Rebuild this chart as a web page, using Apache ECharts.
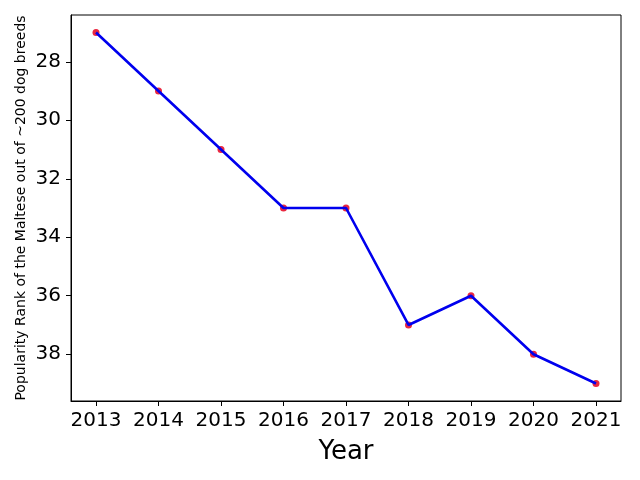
<!DOCTYPE html>
<html>
<head>
<meta charset="utf-8">
<script src="https://cdn.jsdelivr.net/npm/echarts@6/dist/echarts.min.js"></script>
<style>
  html, body { margin: 0; padding: 0; background: #fff; }
  #chart { width: 640px; height: 480px; }
</style>
</head>
<body>
<div id="chart"></div>
<script>
var years = [2013, 2014, 2015, 2016, 2017, 2018, 2019, 2020, 2021];
var ranks = [27, 29, 31, 33, 33, 37, 36, 38, 39];
var yTicks = [28, 30, 32, 34, 36, 38];

var points = years.map(function (y, i) { return [y, ranks[i]]; });

var myChart = echarts.init(document.getElementById('chart'));
var font = 'DejaVu Sans';
var option = {
    animation: false,
    grid: { left: 71, right: 19, top: 15, bottom: 79, containLabel: false },
    xAxis: {
        type: 'value',
        min: 2012.6,
        max: 2021.4,
        name: 'Year',
        nameLocation: 'middle',
        nameGap: 38,
        nameTextStyle: { fontFamily: font, fontSize: 26, color: '#000' },
        axisLine: { show: true, onZero: false, lineStyle: { color: '#000', width: 1 } },
        axisTick: { show: true, length: 5, customValues: years, lineStyle: { color: '#000' } },
        axisLabel: {
            customValues: years, fontFamily: font, fontSize: 20, color: '#000', margin: 10,
            formatter: function (v) { return String(v); }
        },
        splitLine: { show: false }
    },
    yAxis: {
        type: 'value',
        inverse: true,
        min: 26.4,
        max: 39.6,
        name: 'Popularity Rank of the Maltese out of ~200 dog breeds',
        nameLocation: 'middle',
        nameGap: 43,
        nameMoveOverlap: false,
        nameTextStyle: { fontFamily: font, fontSize: 14, color: '#000' },
        axisLine: { show: true, onZero: false, lineStyle: { color: '#000', width: 1 } },
        axisTick: { show: true, length: 5, customValues: yTicks, lineStyle: { color: '#000' } },
        axisLabel: { customValues: yTicks, fontFamily: font, fontSize: 20, color: '#000', margin: 10 },
        splitLine: { show: false }
    },
    series: [
        {
            type: 'scatter',
            data: points,
            symbolSize: 7,
            itemStyle: { color: '#e8102a', opacity: 0.9 },
            z: 1
        },
        {
            type: 'line',
            data: points,
            showSymbol: false,
            lineStyle: { color: '#0000ee', width: 2.6 },
            z: 2
        }
    ]
};
window.addEventListener("resize", function () {
    myChart.resize();
});
myChart.setOption(option, true);
// frame on top and right like the reference
var g = myChart.getModel().getComponent('grid').coordinateSystem.getRect();
myChart.setOption({
    graphic: [{
        type: 'rect',
        shape: { x: g.x, y: g.y, width: g.width, height: g.height },
        style: { fill: 'none', stroke: '#000', lineWidth: 1 },
        silent: true
    }]
});
</script>
</body>
</html>
